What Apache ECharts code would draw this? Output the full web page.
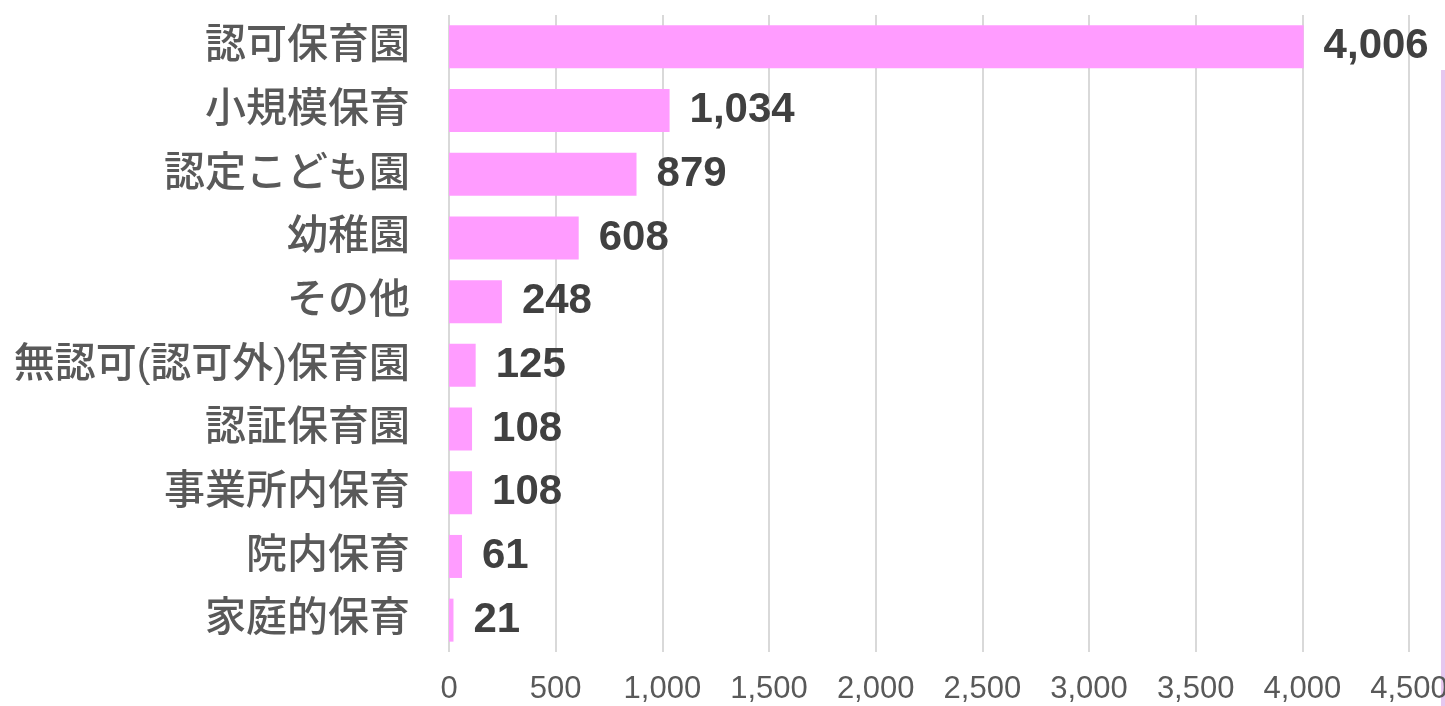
<!DOCTYPE html>
<html><head><meta charset="utf-8">
<script src="https://cdn.jsdelivr.net/npm/echarts@6/dist/echarts.min.js"></script>
<style>html,body{margin:0;padding:0;background:#fff}#c{width:1445px;height:706px}</style>
</head><body><div id="c"></div>
<script>
const categories = ['認可保育園','小規模保育','認定こども園','幼稚園','その他','無認可(認可外)保育園','認証保育園','事業所内保育','院内保育','家庭的保育'];
const values = [4006,1034,879,608,248,125,108,108,61,21];
const xTicks = {min:0, max:4500, interval:500};
const FONT = '"Liberation Sans", "Noto Sans CJK JP", sans-serif';
const chart = echarts.init(document.getElementById('c'));
chart.setOption({
  animation:false,
  grid:{left:449,right:36,top:15,bottom:54,containLabel:false,outerBoundsMode:'none'},
  xAxis:{type:'value',min:xTicks.min,max:xTicks.max,interval:xTicks.interval,
    axisLine:{show:false},axisTick:{show:false},
    splitLine:{show:true,lineStyle:{color:'#d9d9d9',width:2}},
    axisLabel:{color:'#595959',fontSize:31,fontFamily:FONT,margin:22,
      formatter:v=>v.toLocaleString('en-US')}},
  yAxis:{type:'category',data:categories,inverse:true,
    axisLine:{show:false},axisTick:{show:false},
    axisLabel:{color:'#595959',fontSize:41,fontWeight:500,fontFamily:FONT,margin:39}},
  series:[{type:'bar',data:values,barWidth:43,
    itemStyle:{color:'#ff9cff'},
    label:{show:true,position:'right',distance:20,color:'#404040',fontSize:42,fontWeight:'bold',fontFamily:FONT,
      formatter:p=>p.value.toLocaleString('en-US')}}],
  graphic:[{type:'rect',shape:{x:1441,y:70,width:4,height:636},style:{fill:'#e6c6ee'},silent:true}]
});
</script></body></html>
